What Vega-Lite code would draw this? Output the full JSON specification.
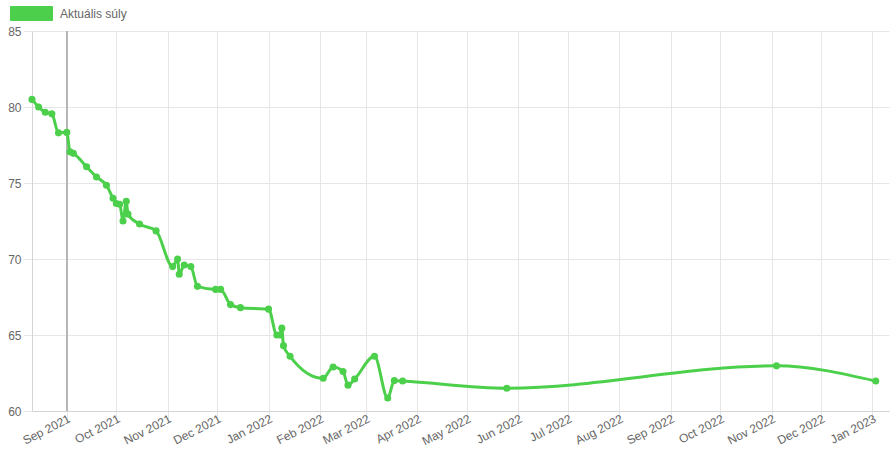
{
  "$schema": "https://vega.github.io/schema/vega-lite/v6.json",
  "width": 857,
  "height": 380,
  "autosize": {"type": "none"},
  "padding": {"left": 32, "top": 31, "right": 7, "bottom": 40},
  "background": "white",
  "config": {
    "font": "Liberation Sans, Arial, sans-serif",
    "view": {"stroke": null},
    "axis": {
      "labelFont": "Liberation Sans, Arial, sans-serif",
      "labelFontSize": 12,
      "labelColor": "#666666",
      "gridColor": "#e6e6e6",
      "tickColor": "#e6e6e6",
      "domainColor": "#d4d4d4",
      "ticks": true,
      "tickSize": 8,
      "title": null
    }
  },
  "data": {
    "values": [
      {"date": "2021-08-11", "w": 80.5},
      {"date": "2021-08-15", "w": 80.0},
      {"date": "2021-08-19", "w": 79.65},
      {"date": "2021-08-23", "w": 79.55},
      {"date": "2021-08-27", "w": 78.3},
      {"date": "2021-09-01", "w": 78.33},
      {"date": "2021-09-03", "w": 77.05},
      {"date": "2021-09-05", "w": 76.95},
      {"date": "2021-09-13", "w": 76.07},
      {"date": "2021-09-19", "w": 75.4},
      {"date": "2021-09-25", "w": 74.85},
      {"date": "2021-09-29", "w": 74.0},
      {"date": "2021-10-01", "w": 73.65},
      {"date": "2021-10-03", "w": 73.6},
      {"date": "2021-10-05", "w": 72.5},
      {"date": "2021-10-07", "w": 73.8},
      {"date": "2021-10-08", "w": 72.95},
      {"date": "2021-10-15", "w": 72.3},
      {"date": "2021-10-25", "w": 71.85},
      {"date": "2021-11-04", "w": 69.5},
      {"date": "2021-11-07", "w": 70.0},
      {"date": "2021-11-08", "w": 69.0},
      {"date": "2021-11-11", "w": 69.6},
      {"date": "2021-11-15", "w": 69.5},
      {"date": "2021-11-19", "w": 68.2},
      {"date": "2021-11-30", "w": 68.0},
      {"date": "2021-12-03", "w": 68.0},
      {"date": "2021-12-09", "w": 67.0},
      {"date": "2021-12-15", "w": 66.8},
      {"date": "2022-01-01", "w": 66.7},
      {"date": "2022-01-06", "w": 65.0},
      {"date": "2022-01-08", "w": 65.0},
      {"date": "2022-01-09", "w": 65.45},
      {"date": "2022-01-10", "w": 64.3},
      {"date": "2022-01-14", "w": 63.6},
      {"date": "2022-02-03", "w": 62.15},
      {"date": "2022-02-09", "w": 62.9},
      {"date": "2022-02-15", "w": 62.6},
      {"date": "2022-02-18", "w": 61.7},
      {"date": "2022-02-22", "w": 62.1},
      {"date": "2022-03-06", "w": 63.6},
      {"date": "2022-03-14", "w": 60.85},
      {"date": "2022-03-18", "w": 62.0},
      {"date": "2022-03-23", "w": 61.97},
      {"date": "2022-05-25", "w": 61.5},
      {"date": "2022-11-04", "w": 62.97},
      {"date": "2023-01-03", "w": 61.97}
    ]
  },
  "layer": [
    {
      "mark": {"type": "rule", "color": "#b5b5b5", "strokeWidth": 1},
      "encoding": {
        "x": {"datum": {"year": 2021, "month": 9, "date": 1}, "type": "temporal"}
      }
    },
    {
      "mark": {"type": "line", "interpolate": "monotone", "strokeWidth": 3, "point": {"size": 50, "filled": true, "opacity": 1}},
      "encoding": {
        "x": {
          "field": "date",
          "type": "temporal",
          "scale": {"domain": [{"year": 2021, "month": 8, "date": 11}, {"year": 2023, "month": 1, "date": 11}]},
          "axis": {
            "format": "%b %Y",
            "tickCount": {"interval": "month", "step": 1},
            "labelAngle": -27,
            "labelAlign": "right",
            "labelBaseline": "top",
            "labelPadding": -6,
            "labelOverlap": false,
            "grid": true
          }
        },
        "y": {
          "field": "w",
          "type": "quantitative",
          "scale": {"domain": [60, 85], "nice": false, "zero": false},
          "axis": {"values": [60, 65, 70, 75, 80, 85], "labelPadding": 2, "tickSize": 9, "grid": true}
        },
        "color": {
          "datum": "Aktuális súly",
          "scale": {"range": ["#4cd04c"]},
          "legend": {
            "orient": "none",
            "legendX": -22,
            "legendY": -39,
            "title": null,
            "symbolType": "M-1,-0.3333H1V0.3333H-1Z",
            "symbolSize": 1764,
            "symbolFillColor": "#4cd04c",
            "symbolStrokeColor": "#4cd04c",
            "symbolStrokeWidth": 1,
            "symbolOpacity": 1,
            "labelFontSize": 12,
            "labelColor": "#666666",
            "labelFont": "Liberation Sans, Arial, sans-serif",
            "labelOffset": 7
          }
        }
      }
    }
  ]
}
